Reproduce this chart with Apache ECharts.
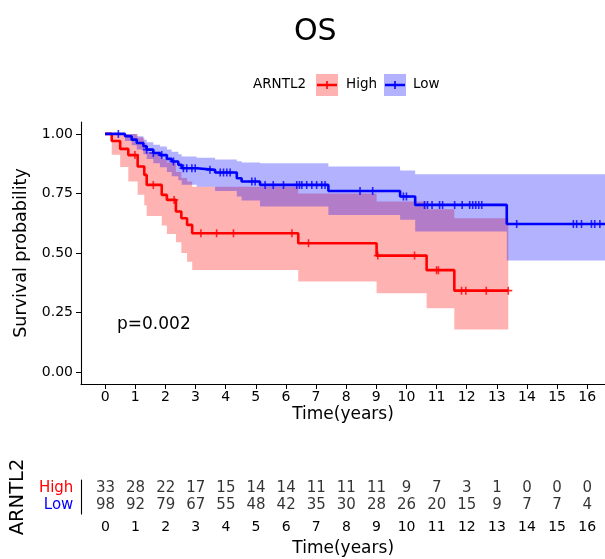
<!DOCTYPE html>
<html><head><meta charset="utf-8">
<script src="https://cdn.jsdelivr.net/npm/echarts@6.0.0/dist/echarts.min.js"></script>
<style>html,body{margin:0;padding:0;background:#fff}#c{width:605px;height:559px}</style>
</head><body><div id="c"></div>
<script>
const FONT = 'DejaVu Sans';
const timeTicks = [0,1,2,3,4,5,6,7,8,9,10,11,12,13,14,15,16];
const survTicks = [0, 0.25, 0.5, 0.75, 1];
const groups = ['Low', 'High'];

// High group (red)
const highTimes = [0, 0.22, 0.50, 0.77, 1.08, 1.30, 1.38, 1.88, 2.05, 2.35, 2.53, 2.72, 2.89, 6.41, 9.01, 10.67, 11.59, 13.38];
const highSurv  = [1, 0.970, 0.937, 0.911, 0.863, 0.828, 0.786, 0.744, 0.723, 0.674, 0.646, 0.618, 0.583, 0.541, 0.489, 0.428, 0.342, 0.342];
const highUpper = [1, 1, 1, 1, 0.985, 0.960, 0.925, 0.895, 0.880, 0.840, 0.815, 0.800, 0.778, 0.750, 0.716, 0.684, 0.646, 0.646];
const highLower = [1, 0.912, 0.861, 0.800, 0.745, 0.700, 0.655, 0.615, 0.580, 0.545, 0.500, 0.463, 0.429, 0.380, 0.331, 0.268, 0.179, 0.179];
const highCensor = [0.99, 1.60, 2.29, 3.18, 3.70, 4.26, 6.20, 6.75, 9.05, 10.27, 11.00, 11.06, 11.83, 11.97, 12.65, 13.38];

// Low group (blue)
const lowTimes = [0, 0.66, 0.88, 1.05, 1.27, 1.38, 1.60, 1.82, 2.05, 2.21, 2.43, 2.54, 3.04, 3.65, 4.37, 4.53, 5.14, 7.41, 9.79, 10.29, 13.33, 16.59];
const lowSurv  = [1, 0.990, 0.976, 0.962, 0.948, 0.934, 0.920, 0.911, 0.895, 0.884, 0.870, 0.856, 0.849, 0.838, 0.814, 0.800, 0.786, 0.760, 0.737, 0.702, 0.622, 0.622];
const lowUpper = [1, 1, 1, 0.990, 0.975, 0.965, 0.955, 0.947, 0.935, 0.925, 0.915, 0.905, 0.900, 0.893, 0.885, 0.880, 0.877, 0.863, 0.846, 0.831, 0.831, 0.831];
const lowLower = [1, 0.970, 0.952, 0.935, 0.915, 0.895, 0.877, 0.860, 0.840, 0.822, 0.805, 0.787, 0.778, 0.760, 0.737, 0.720, 0.695, 0.660, 0.640, 0.590, 0.468, 0.468];
const lowCensor = [0.44, 1.38, 1.60, 1.88, 2.27, 2.60, 2.71, 2.88, 2.99, 3.48, 3.82, 3.93, 4.04, 4.15, 4.87, 4.98, 5.31, 5.58, 5.92, 6.36, 6.45, 6.53, 6.69, 6.86, 7.02, 7.19, 7.30, 8.46, 8.88, 9.90, 10.00, 10.60, 10.70, 10.85, 11.10, 11.20, 11.60, 11.85, 12.10, 12.20, 12.30, 12.40, 12.50, 13.66, 15.54, 15.65, 15.81, 16.14, 16.25, 16.42];

// Numbers at risk
const highRisk = [33,28,22,17,15,14,14,11,11,11,9,7,3,1,0,0,0];
const lowRisk  = [98,92,79,67,55,48,42,35,30,28,26,20,15,9,7,7,4];

const RED = '#FF0000', BLUE = '#0000FF';
const PLUS = 'path://M4,0H6V4H10V6H6V10H4V6H0V4H4Z';

function stepAt(times, vals, t) {
  let v = vals[0];
  for (let i = 0; i < times.length; i++) if (times[i] <= t) v = vals[i];
  return v;
}
// Confidence ribbon as one stepped polygon, positioned through the axes (api.coord)
function band(name, times, lo, up, color) {
  return {
    type: 'custom', name: name + '_band', silent: true, z: 1,
    encode: { x: 0, y: [1, 2] },
    data: times.map((t, i) => [t, lo[i], up[i]]),
    renderItem: function (params, api) {
      if (params.dataIndexInside !== 0) return null;
      const n = params.dataInsideLength;
      const top = [], bot = [];
      for (let j = 0; j < n; j++) {
        const t = api.value(0, j);
        const tn = j < n - 1 ? api.value(0, j + 1) : t;
        const l = api.value(1, j), u = api.value(2, j);
        top.push(api.coord([t, u]), api.coord([tn, u]));
        bot.push(api.coord([t, l]), api.coord([tn, l]));
      }
      return { type: 'polygon', shape: { points: top.concat(bot.reverse()) }, style: { fill: color } };
    }
  };
}
function curve(name, times, surv, color) {
  return { type: 'line', name: name, step: 'end', symbol: 'none', z: 3,
    lineStyle: { color: color, width: 2.6 }, data: times.map((t, i) => [t, surv[i]]) };
}
function censors(name, cens, times, surv, color) {
  return { type: 'scatter', name: name + '_cens', symbol: PLUS, symbolSize: 8, z: 4,
    itemStyle: { color: color }, data: cens.map(t => [t, stepAt(times, surv, t)]) };
}
const txt = (size, extra) => Object.assign({ fontFamily: FONT, fontSize: size, color: '#000' }, extra || {});

const chart = echarts.init(document.getElementById('c'), null, { renderer: 'canvas' });
const axisCommonX = (gridIndex, nameGap) => ({
  gridIndex, type: 'value', min: -0.8, max: 16.59,
  axisLine: { onZero: false, lineStyle: { color: '#000', width: 1.1 } },
  axisTick: { customValues: timeTicks, length: 5, lineStyle: { color: '#000', width: 1 } },
  axisLabel: Object.assign({ customValues: timeTicks, margin: 6 }, txt(14)),
  splitLine: { show: false },
  name: 'Time(years)', nameLocation: 'middle', nameGap: nameGap, nameTextStyle: txt(17)
});

const option = {
  animation: false,
  backgroundColor: '#fff',
  title: { text: 'OS', left: 289, top: 12, textStyle: txt(30, { fontWeight: 'normal' }) },
  grid: [
    { left: 81, right: 0, top: 122, height: 262 },
    { left: 81, right: 0, top: 480, height: 34 }
  ],
  xAxis: [ axisCommonX(0, 22), axisCommonX(1, 26) ],
  yAxis: [
    { gridIndex: 0, type: 'value', min: -0.05, max: 1.05,
      axisLine: { onZero: false, lineStyle: { color: '#000', width: 1.1 } },
      axisTick: { customValues: survTicks, length: 5, lineStyle: { color: '#000' } },
      axisLabel: Object.assign({ customValues: survTicks, margin: 8, formatter: v => v.toFixed(2) }, txt(14)),
      splitLine: { show: false },
      name: 'Survival probability', nameLocation: 'middle', nameGap: 46, nameTextStyle: txt(17.5) },
    { gridIndex: 1, type: 'category', data: groups,
      axisLine: { onZero: false, lineStyle: { color: '#000', width: 1.1 } },
      axisTick: { alignWithLabel: true, interval: 0, length: 4, lineStyle: { color: '#000' } },
      axisLabel: { interval: 0, margin: 8, fontFamily: FONT, fontSize: 15,
        formatter: v => '{' + v + '|' + v + '}',
        rich: { High: { color: RED, fontFamily: FONT, fontSize: 15 }, Low: { color: BLUE, fontFamily: FONT, fontSize: 15 } } },
      name: 'ARNTL2', nameLocation: 'middle', nameGap: 47, nameTextStyle: txt(19.5) }
  ],
  series: [
    band('High', highTimes, highLower, highUpper, 'rgba(255,0,0,0.3)'),
    band('Low', lowTimes, lowLower, lowUpper, 'rgba(0,0,255,0.3)'),
    curve('High', highTimes, highSurv, RED),
    curve('Low', lowTimes, lowSurv, BLUE),
    censors('High', highCensor, highTimes, highSurv, RED),
    censors('Low', lowCensor, lowTimes, lowSurv, BLUE),
    { type: 'scatter', name: 'riskHigh', xAxisIndex: 1, yAxisIndex: 1, symbolSize: 0, silent: true,
      label: { show: true, position: 'inside', formatter: p => p.value[2], fontFamily: FONT, fontSize: 15, color: '#000' },
      data: timeTicks.map((t, i) => [t, 'High', highRisk[i]]) },
    { type: 'scatter', name: 'riskLow', xAxisIndex: 1, yAxisIndex: 1, symbolSize: 0, silent: true,
      label: { show: true, position: 'inside', formatter: p => p.value[2], fontFamily: FONT, fontSize: 15, color: '#000' },
      data: timeTicks.map((t, i) => [t, 'Low', lowRisk[i]]) }
  ],
  graphic: [
    { type: 'text', left: 117, top: 316, style: { text: 'p=0.002', font: '17px "DejaVu Sans"', fill: '#000' } },
    { type: 'text', left: 253, top: 77, style: { text: 'ARNTL2', font: '13.5px "DejaVu Sans"', fill: '#000' } },
    { type: 'rect', shape: { x: 316, y: 74, width: 22, height: 22 }, style: { fill: 'rgba(255,0,0,0.3)' } },
    { type: 'line', shape: { x1: 317, y1: 85, x2: 337, y2: 85 }, style: { stroke: RED, lineWidth: 2.5 } },
    { type: 'line', shape: { x1: 327, y1: 81, x2: 327, y2: 89 }, style: { stroke: RED, lineWidth: 1.6 } },
    { type: 'text', left: 346, top: 77, style: { text: 'High', font: '13.5px "DejaVu Sans"', fill: '#000' } },
    { type: 'rect', shape: { x: 384, y: 74, width: 22, height: 22 }, style: { fill: 'rgba(0,0,255,0.3)' } },
    { type: 'line', shape: { x1: 385, y1: 85, x2: 405, y2: 85 }, style: { stroke: BLUE, lineWidth: 2.5 } },
    { type: 'line', shape: { x1: 395, y1: 81, x2: 395, y2: 89 }, style: { stroke: BLUE, lineWidth: 1.6 } },
    { type: 'text', left: 413, top: 77, style: { text: 'Low', font: '13.5px "DejaVu Sans"', fill: '#000' } }
  ]
};
chart.setOption(option);
</script>
</body></html>
